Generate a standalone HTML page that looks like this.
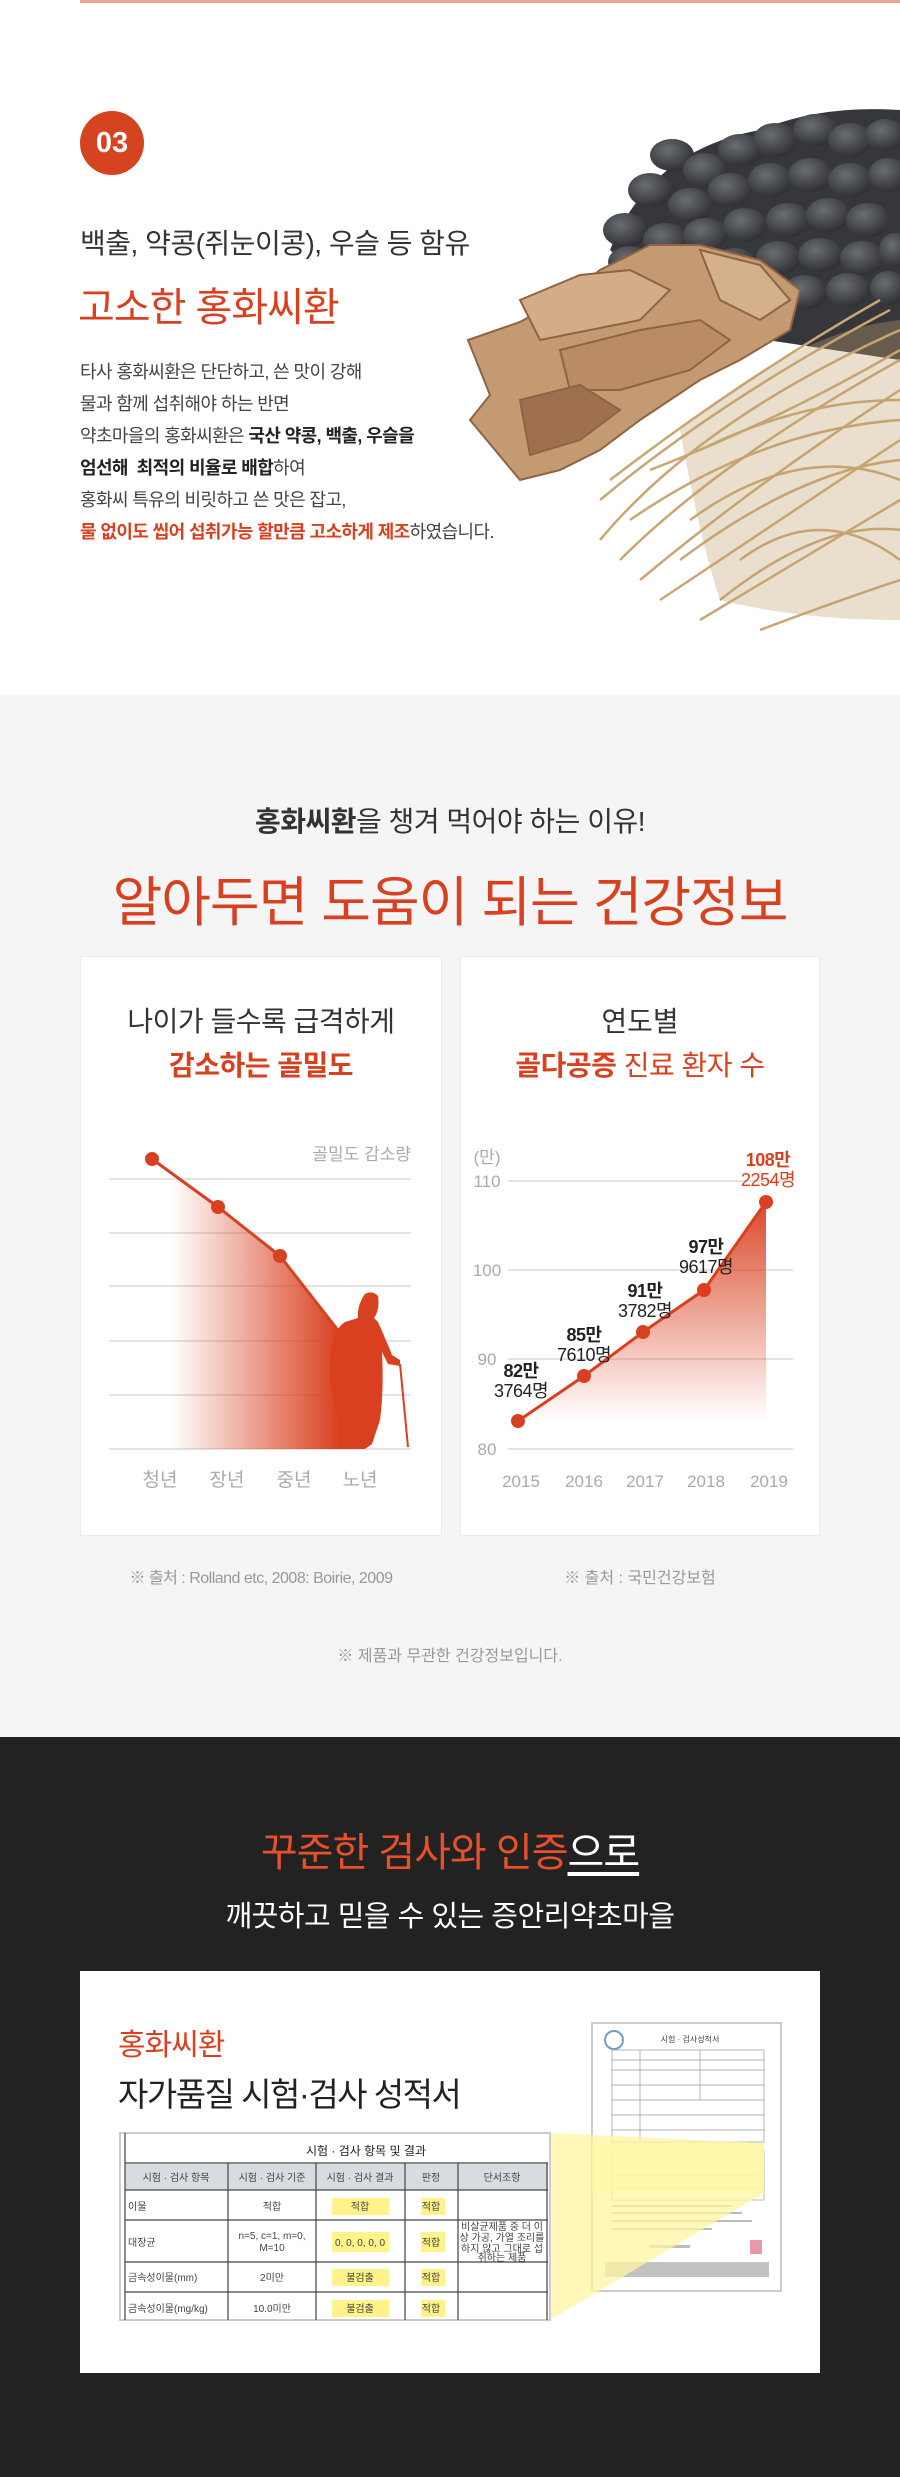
<!DOCTYPE html>
<html><head><meta charset="utf-8">
<style>
*{margin:0;padding:0;box-sizing:border-box}
body{width:900px;height:2477px;position:relative;background:#fff;font-family:"Liberation Sans","Noto Sans CJK KR",sans-serif;overflow:hidden}
.a{position:absolute;white-space:nowrap}
.o{color:#d9401f}
b{font-weight:700}
</style></head><body>
<div class="a" style="left:80px;top:0;width:820px;height:3px;background:#f0a58f"></div>

<!-- Section 1 -->
<div class="a" style="left:80px;top:111px;width:64px;height:64px;border-radius:50%;background:#d5431f;color:#fff;font-size:29px;font-weight:700;text-align:center;line-height:64px">03</div>
<div class="a" style="left:80px;top:222px;font-size:28px;color:#333;letter-spacing:-0.5px">백출, 약콩(쥐눈이콩), 우슬 등 함유</div>
<div class="a o" style="left:78px;top:275px;font-size:40px;letter-spacing:-1px">고소한 홍화씨환</div>
<div class="a" style="left:80px;top:356px;font-size:18px;line-height:32px;color:#444;letter-spacing:-0.6px">
타사 홍화씨환은 단단하고, 쓴 맛이 강해<br>
물과 함께 섭취해야 하는 반면<br>
약초마을의 홍화씨환은 <b style="color:#222">국산 약콩, 백출, 우슬을</b><br>
<b style="color:#222">엄선해 &nbsp;최적의 비율로 배합</b>하여<br>
홍화씨 특유의 비릿하고 쓴 맛은 잡고,<br>
<b class="o">물 없이도 씹어 섭취가능 할만큼 고소하게 제조</b>하였습니다.
</div>

<svg class="a" style="left:440px;top:60px" width="460" height="580" viewBox="440 60 460 580">
<defs><radialGradient id="bn" cx="0.4" cy="0.35" r="0.7"><stop offset="0" stop-color="#6a6d72"/><stop offset="1" stop-color="#2b2d31"/></radialGradient></defs>
<path d="M610 250 Q650 150 760 130 Q820 105 900 110 L900 360 L700 330 Z" fill="#35373b"/>
<g fill="url(#bn)">
<ellipse cx="672" cy="155" rx="22" ry="16"/><ellipse cx="705" cy="170" rx="22" ry="17"/><ellipse cx="740" cy="150" rx="22" ry="16"/><ellipse cx="775" cy="140" rx="22" ry="17"/><ellipse cx="815" cy="130" rx="22" ry="16"/><ellipse cx="850" cy="140" rx="22" ry="17"/><ellipse cx="885" cy="135" rx="20" ry="16"/>
<ellipse cx="650" cy="190" rx="22" ry="17"/><ellipse cx="690" cy="205" rx="22" ry="17"/><ellipse cx="730" cy="190" rx="22" ry="17"/><ellipse cx="770" cy="180" rx="22" ry="17"/><ellipse cx="810" cy="175" rx="22" ry="17"/><ellipse cx="850" cy="180" rx="22" ry="17"/><ellipse cx="888" cy="175" rx="20" ry="17"/>
<ellipse cx="625" cy="230" rx="22" ry="17"/><ellipse cx="665" cy="240" rx="22" ry="17"/><ellipse cx="705" cy="235" rx="22" ry="17"/><ellipse cx="745" cy="225" rx="22" ry="17"/><ellipse cx="788" cy="220" rx="22" ry="17"/><ellipse cx="828" cy="215" rx="22" ry="17"/><ellipse cx="868" cy="220" rx="22" ry="17"/>
<ellipse cx="630" cy="262" rx="22" ry="16"/><ellipse cx="690" cy="268" rx="22" ry="17"/><ellipse cx="735" cy="265" rx="22" ry="17"/><ellipse cx="778" cy="258" rx="22" ry="17"/><ellipse cx="820" cy="255" rx="22" ry="17"/><ellipse cx="862" cy="258" rx="22" ry="17"/><ellipse cx="895" cy="250" rx="16" ry="17"/>
<ellipse cx="760" cy="295" rx="22" ry="17"/><ellipse cx="805" cy="292" rx="22" ry="17"/><ellipse cx="848" cy="290" rx="22" ry="17"/><ellipse cx="888" cy="288" rx="18" ry="17"/>
</g>
<g fill="#c49a72" stroke="#8e6444" stroke-width="2">
<path d="M468 340 L520 322 L560 300 L600 270 L650 245 L700 245 L760 260 L800 290 L790 330 L740 360 L700 380 L640 420 L600 450 L560 470 L520 480 L495 450 L470 420 L490 395 Z"/>
<path d="M520 300 L580 275 L630 270 L670 290 L640 320 L590 330 L540 340 Z" fill="#d3ad88"/>
<path d="M560 350 L640 330 L700 320 L730 340 L690 370 L620 390 L570 390 Z" fill="#b98c66"/>
<path d="M700 250 L760 265 L790 300 L760 320 L720 300 Z" fill="#d5b08c"/>
<path d="M520 400 L580 385 L620 410 L580 440 L530 455 Z" fill="#9e7050"/>
</g>
<g stroke="#c7a774" stroke-width="2.5" fill="none">
<path d="M600 540 Q700 420 900 330"/><path d="M620 560 Q720 460 900 360"/><path d="M640 580 Q760 480 900 390"/><path d="M600 500 Q720 400 890 310"/>
<path d="M660 600 Q780 520 900 440"/><path d="M700 620 Q800 560 900 500"/><path d="M630 520 Q760 430 900 420"/><path d="M680 560 Q800 470 900 460"/>
<path d="M650 470 Q780 420 900 350"/><path d="M720 600 Q820 520 900 530"/><path d="M760 630 Q840 600 900 580"/><path d="M610 480 Q740 380 880 300"/>
<path d="M700 450 Q800 400 900 400"/><path d="M690 520 Q800 440 900 480"/><path d="M740 560 Q820 500 900 560"/>
</g>
<path d="M680 430 Q800 330 900 320 L900 620 Q800 620 720 600 Q700 540 680 430Z" fill="#c2a06c" opacity="0.35"/>
</svg>

<!-- Section 2 -->
<div class="a" style="left:0;top:695px;width:900px;height:1042px;background:#f5f5f5"></div>
<div class="a" style="left:0;top:800px;width:900px;text-align:center;font-size:28px;color:#333;letter-spacing:-0.5px"><b>홍화씨환</b>을 챙겨 먹어야 하는 이유!</div>
<div class="a o" style="left:0;top:858px;width:900px;text-align:center;font-size:54px;letter-spacing:-1px">알아두면 도움이 되는 건강정보</div>

<div class="a" style="left:80px;top:956px;width:362px;height:580px;background:#fff;border:1px solid #ececec"></div>
<div class="a" style="left:460px;top:956px;width:360px;height:580px;background:#fff;border:1px solid #ececec"></div>
<div class="a" style="left:80px;top:1000px;width:362px;text-align:center;font-size:28px;color:#333;letter-spacing:-0.5px">나이가 들수록 급격하게</div>
<div class="a o" style="left:80px;top:1044px;width:362px;text-align:center;font-size:28px;font-weight:700;letter-spacing:-0.5px">감소하는 골밀도</div>
<div class="a" style="left:460px;top:1000px;width:360px;text-align:center;font-size:28px;color:#333">연도별</div>
<div class="a o" style="left:460px;top:1044px;width:360px;text-align:center;font-size:28px;letter-spacing:-0.5px"><b>골다공증</b> 진료 환자 수</div>

<svg class="a" style="left:0;top:1100px" width="900" height="420" viewBox="0 1100 900 420" font-family="Liberation Sans, Noto Sans CJK KR, sans-serif">
<defs>
<linearGradient id="lg" x1="0" x2="1" y1="0" y2="0"><stop offset="0.1" stop-color="#d9401f" stop-opacity="0"/><stop offset="0.95" stop-color="#d9401f" stop-opacity="1"/></linearGradient>
<linearGradient id="rg" x1="0" x2="0" y1="0" y2="1"><stop offset="0" stop-color="#d9401f" stop-opacity="0.95"/><stop offset="1" stop-color="#d9401f" stop-opacity="0"/></linearGradient>
</defs>
<g stroke="#e3e3e3" stroke-width="2">
<line x1="109" x2="411" y1="1179" y2="1179"/><line x1="109" x2="411" y1="1233" y2="1233"/><line x1="109" x2="411" y1="1286" y2="1286"/><line x1="109" x2="411" y1="1341" y2="1341"/><line x1="109" x2="411" y1="1395" y2="1395"/><line x1="109" x2="411" y1="1449" y2="1449"/>
<line x1="508" x2="793" y1="1181" y2="1181"/><line x1="508" x2="793" y1="1270" y2="1270"/><line x1="508" x2="793" y1="1359" y2="1359"/><line x1="508" x2="793" y1="1449" y2="1449"/>
</g>
<path d="M152 1159 L218 1207 L280 1256 L344 1338 L350 1449 L152 1449 Z" fill="url(#lg)"/>
<polyline points="152,1159 218,1207 280,1256 344,1338" fill="none" stroke="#d9401f" stroke-width="3"/>
<g fill="#d9401f"><circle cx="152" cy="1159" r="7"/><circle cx="218" cy="1207" r="7"/><circle cx="280" cy="1256" r="7"/></g>
<path d="M365 1294 Q372 1290 378 1296 Q380 1310 374 1318 L378 1322 Q386 1340 392 1355 L400 1360 L400 1366 L388 1364 L382 1352 Q384 1390 380 1420 L372 1444 L365 1449 L338 1449 L338 1420 Q328 1390 330 1360 Q332 1330 345 1322 L358 1318 Q357 1305 365 1294Z" fill="#d9401f"/>
<line x1="400" y1="1364" x2="408" y2="1447" stroke="#d9401f" stroke-width="2"/>
<text x="411" y="1160" text-anchor="end" font-size="17" fill="#aaa">골밀도 감소량</text>
<g font-size="19" fill="#aaa" text-anchor="middle"><text x="160" y="1486">청년</text><text x="227" y="1486">장년</text><text x="294" y="1486">중년</text><text x="360" y="1486">노년</text></g>

<path d="M518 1421 L584 1376 L643 1332 L704 1290 L766 1202 L766 1420 L518 1421Z" fill="url(#rg)"/>
<polyline points="518,1421 584,1376 643,1332 704,1290 766,1202" fill="none" stroke="#d9401f" stroke-width="3"/>
<g fill="#d9401f"><circle cx="518" cy="1421" r="7"/><circle cx="584" cy="1376" r="7"/><circle cx="643" cy="1332" r="7"/><circle cx="704" cy="1290" r="7"/><circle cx="766" cy="1202" r="7"/></g>
<g font-size="17" fill="#aaa" text-anchor="middle"><text x="487" y="1163">(만)</text><text x="487" y="1187">110</text><text x="487" y="1276">100</text><text x="487" y="1365">90</text><text x="487" y="1455">80</text></g>
<g font-size="17" fill="#aaa" text-anchor="middle"><text x="521" y="1487">2015</text><text x="584" y="1487">2016</text><text x="645" y="1487">2017</text><text x="706" y="1487">2018</text><text x="769" y="1487">2019</text></g>
<g font-size="18" fill="#222" text-anchor="middle" letter-spacing="-0.5">
<text x="521" y="1377" font-weight="700">82만</text><text x="521" y="1397">3764명</text>
<text x="584" y="1341" font-weight="700">85만</text><text x="584" y="1361">7610명</text>
<text x="645" y="1297" font-weight="700">91만</text><text x="645" y="1317">3782명</text>
<text x="706" y="1253" font-weight="700">97만</text><text x="706" y="1273">9617명</text>
<text x="768" y="1166" font-weight="700" fill="#d9401f">108만</text><text x="768" y="1186" fill="#d9401f">2254명</text>
</g>
</svg>

<div class="a" style="left:80px;top:1564px;width:362px;text-align:center;font-size:16px;color:#999;letter-spacing:-0.5px">※ 출처 : Rolland etc, 2008: Boirie, 2009</div>
<div class="a" style="left:460px;top:1564px;width:360px;text-align:center;font-size:16px;color:#999">※ 출처 : 국민건강보험</div>
<div class="a" style="left:0;top:1642px;width:900px;text-align:center;font-size:16px;color:#999">※ 제품과 무관한 건강정보입니다.</div>

<!-- Section 3 -->
<div class="a" style="left:0;top:1737px;width:900px;height:740px;background:#222"></div>
<div class="a" style="left:0;top:1820px;width:900px;text-align:center;font-size:40px;color:#e8502a;letter-spacing:-1px">꾸준한 검사와 인증<span style="color:#fff;text-decoration:underline;text-underline-offset:6px">으로</span></div>
<div class="a" style="left:0;top:1893px;width:900px;text-align:center;font-size:29px;color:#fff;letter-spacing:-0.5px">깨끗하고 믿을 수 있는 증안리약초마을</div>
<div class="a" style="left:80px;top:1971px;width:740px;height:402px;background:#fff"></div>
<div class="a o" style="left:118px;top:2020px;font-size:30px;letter-spacing:-1px">홍화씨환</div>
<div class="a" style="left:118px;top:2068px;font-size:33px;color:#222;letter-spacing:-1.5px">자가품질 시험·검사 성적서</div>

<svg class="a" style="left:0;top:2000px" width="900" height="340" viewBox="0 2000 900 340" font-family="Liberation Sans, Noto Sans CJK KR, sans-serif">
<rect x="592" y="2023" width="189" height="268" fill="#fff" stroke="#ccc" stroke-width="2"/>
<circle cx="614" cy="2040" r="9" fill="none" stroke="#7a9bbf" stroke-width="2"/>
<text x="690" y="2042" font-size="8" text-anchor="middle" fill="#444">시험 · 검사성적서</text>
<g stroke="#999" stroke-width="0.7" fill="none">
<rect x="612" y="2050" width="152" height="92"/><line x1="612" x2="764" y1="2060" y2="2060"/><line x1="612" x2="764" y1="2070" y2="2070"/><line x1="612" x2="764" y1="2085" y2="2085"/><line x1="612" x2="764" y1="2100" y2="2100"/><line x1="612" x2="764" y1="2115" y2="2115"/><line x1="612" x2="764" y1="2130" y2="2130"/>
<line x1="640" x2="640" y1="2050" y2="2142"/><line x1="700" x2="700" y1="2050" y2="2100"/>
<rect x="612" y="2150" width="152" height="50"/><line x1="612" x2="764" y1="2160" y2="2160"/><line x1="612" x2="764" y1="2175" y2="2175"/><line x1="612" x2="764" y1="2188" y2="2188"/>
</g>
<g fill="#bbb"><rect x="612" y="2205" width="120" height="2"/><rect x="612" y="2212" width="130" height="2"/><rect x="612" y="2220" width="140" height="2"/><rect x="612" y="2228" width="100" height="2"/><rect x="650" y="2245" width="40" height="3"/></g>
<rect x="605" y="2262" width="164" height="15" fill="#999" opacity="0.6"/>
<rect x="750" y="2240" width="12" height="14" fill="#e59aa8"/>
<polygon points="550,2133 764,2143 764,2193 550,2320" fill="#fff6a0" opacity="0.75"/>
<rect x="592" y="2143" width="172" height="50" fill="#fff6a0" opacity="0.6"/>
<rect x="120" y="2133" width="430" height="187" fill="#fff" stroke="#ccc" stroke-width="2"/>
<rect x="125" y="2164" width="423" height="26" fill="#d8dce2"/>
<g stroke="#444" stroke-width="1.2">
<line x1="125" x2="125" y1="2133" y2="2320"/><line x1="125" x2="548" y1="2163" y2="2163"/><line x1="125" x2="548" y1="2190" y2="2190"/><line x1="125" x2="548" y1="2220" y2="2220"/><line x1="125" x2="548" y1="2262" y2="2262"/><line x1="125" x2="548" y1="2292" y2="2292"/>
<line x1="228" x2="228" y1="2163" y2="2320"/><line x1="316" x2="316" y1="2163" y2="2320"/><line x1="405" x2="405" y1="2163" y2="2320"/><line x1="458" x2="458" y1="2163" y2="2320"/><line x1="547" x2="547" y1="2163" y2="2320"/>
</g>
<g fill="#fff38a"><rect x="332" y="2198" width="57" height="17"/><rect x="421" y="2198" width="24" height="17"/><rect x="332" y="2232" width="57" height="20"/><rect x="421" y="2232" width="24" height="20"/><rect x="332" y="2269" width="57" height="17"/><rect x="421" y="2269" width="24" height="17"/><rect x="332" y="2300" width="57" height="17"/><rect x="421" y="2300" width="24" height="17"/></g>
<text x="366" y="2155" font-size="12" text-anchor="middle" fill="#222">시험 · 검사 항목 및 결과</text>
<g font-size="10" fill="#444" text-anchor="middle">
<text x="176" y="2181">시험 · 검사 항목</text><text x="272" y="2181">시험 · 검사 기준</text><text x="360" y="2181">시험 · 검사 결과</text><text x="431" y="2181">판정</text><text x="502" y="2181">단서조항</text>
<text x="272" y="2210">적합</text><text x="360" y="2210">적합</text><text x="431" y="2210">적합</text>
<text x="272" y="2239">n=5, c=1, m=0,</text><text x="272" y="2251">M=10</text><text x="360" y="2246">0, 0, 0, 0, 0</text><text x="431" y="2246">적합</text>
<text x="502" y="2230">비살균제품 중 더 이</text><text x="502" y="2241">상 가공, 가열 조리를</text><text x="502" y="2252">하지 않고 그대로 섭</text><text x="502" y="2261">취하는 제품</text>
<text x="272" y="2281">2미만</text><text x="360" y="2281">불검출</text><text x="431" y="2281">적합</text>
<text x="272" y="2312">10.0미만</text><text x="360" y="2312">불검출</text><text x="431" y="2312">적합</text>
</g>
<g font-size="10" fill="#444"><text x="128" y="2210">이물</text><text x="128" y="2246">대장균</text><text x="128" y="2281">금속성이물(mm)</text><text x="128" y="2312">금속성이물(mg/kg)</text></g>
</svg>
</body></html>
